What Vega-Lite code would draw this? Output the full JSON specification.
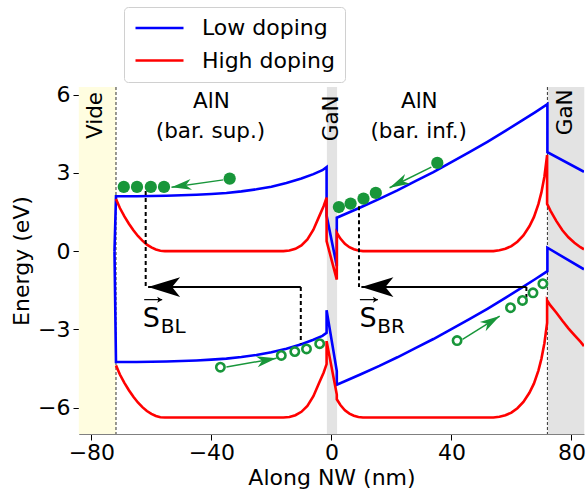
{
  "$schema": "https://vega.github.io/schema/vega-lite/v6.json",
  "width": 505,
  "height": 347,
  "autosize": {"type": "none"},
  "padding": {"left": 79, "top": 87, "right": 3, "bottom": 56},
  "background": "white",
  "config": {
    "view": {"stroke": null},
    "font": "DejaVu Sans",
    "axis": {"grid": false, "labelFont": "DejaVu Sans", "titleFont": "DejaVu Sans", "labelFontSize": 22, "titleFontSize": 22, "titleFontWeight": "normal", "labelColor": "#000000", "titleColor": "#000000", "domainColor": "#808080", "tickColor": "#000000", "tickWidth": 1, "labelOverlap": false},
    "legend": {"labelFont": "DejaVu Sans", "titleFont": "DejaVu Sans"}
  },
  "datasets": {
    "regions": [
      {"name": "Vide", "x1": -84.2, "x2": -71.8},
      {"name": "GaN", "x1": -1.5, "x2": 1.9},
      {"name": "GaN", "x1": 72.1, "x2": 84.3}
    ],
    "interfaces": [{"x": -71.8}, {"x": 72.0}],
    "bands": [
      {"d": "Low doping", "b": "CB", "x": -72.3, "E": 0},
      {"d": "Low doping", "b": "CB", "x": -71.8, "E": 2.10},
      {"d": "Low doping", "b": "CB", "x": -65, "E": 2.10},
      {"d": "Low doping", "b": "CB", "x": -60, "E": 2.11},
      {"d": "Low doping", "b": "CB", "x": -55, "E": 2.12},
      {"d": "Low doping", "b": "CB", "x": -50, "E": 2.14},
      {"d": "Low doping", "b": "CB", "x": -45, "E": 2.16},
      {"d": "Low doping", "b": "CB", "x": -40, "E": 2.19},
      {"d": "Low doping", "b": "CB", "x": -35, "E": 2.23},
      {"d": "Low doping", "b": "CB", "x": -30, "E": 2.29},
      {"d": "Low doping", "b": "CB", "x": -25, "E": 2.37},
      {"d": "Low doping", "b": "CB", "x": -20, "E": 2.47},
      {"d": "Low doping", "b": "CB", "x": -15, "E": 2.61},
      {"d": "Low doping", "b": "CB", "x": -10, "E": 2.78},
      {"d": "Low doping", "b": "CB", "x": -6, "E": 2.95},
      {"d": "Low doping", "b": "CB", "x": -3, "E": 3.10},
      {"d": "Low doping", "b": "CB", "x": -1.6, "E": 3.22},
      {"d": "Low doping", "b": "CB", "x": -1.6, "E": 1.36},
      {"d": "Low doping", "b": "CB", "x": 1.8, "E": -0.57},
      {"d": "Low doping", "b": "CB", "x": 1.8, "E": 1.28},
      {"d": "Low doping", "b": "CB", "x": 6, "E": 1.49},
      {"d": "Low doping", "b": "CB", "x": 10, "E": 1.69},
      {"d": "Low doping", "b": "CB", "x": 16, "E": 2.00},
      {"d": "Low doping", "b": "CB", "x": 22, "E": 2.33},
      {"d": "Low doping", "b": "CB", "x": 28, "E": 2.68},
      {"d": "Low doping", "b": "CB", "x": 34, "E": 3.03},
      {"d": "Low doping", "b": "CB", "x": 40, "E": 3.41},
      {"d": "Low doping", "b": "CB", "x": 46, "E": 3.79},
      {"d": "Low doping", "b": "CB", "x": 52, "E": 4.19},
      {"d": "Low doping", "b": "CB", "x": 58, "E": 4.61},
      {"d": "Low doping", "b": "CB", "x": 64, "E": 5.04},
      {"d": "Low doping", "b": "CB", "x": 68, "E": 5.33},
      {"d": "Low doping", "b": "CB", "x": 72, "E": 5.63},
      {"d": "Low doping", "b": "CB", "x": 72, "E": 3.79},
      {"d": "Low doping", "b": "CB", "x": 84.2, "E": 3.04},
      {"d": "Low doping", "b": "VB", "x": -72.3, "E": 0},
      {"d": "Low doping", "b": "VB", "x": -71.8, "E": -4.25},
      {"d": "Low doping", "b": "VB", "x": -65, "E": -4.25},
      {"d": "Low doping", "b": "VB", "x": -60, "E": -4.24},
      {"d": "Low doping", "b": "VB", "x": -55, "E": -4.23},
      {"d": "Low doping", "b": "VB", "x": -50, "E": -4.21},
      {"d": "Low doping", "b": "VB", "x": -45, "E": -4.19},
      {"d": "Low doping", "b": "VB", "x": -40, "E": -4.16},
      {"d": "Low doping", "b": "VB", "x": -35, "E": -4.12},
      {"d": "Low doping", "b": "VB", "x": -30, "E": -4.06},
      {"d": "Low doping", "b": "VB", "x": -25, "E": -3.98},
      {"d": "Low doping", "b": "VB", "x": -20, "E": -3.88},
      {"d": "Low doping", "b": "VB", "x": -15, "E": -3.74},
      {"d": "Low doping", "b": "VB", "x": -10, "E": -3.57},
      {"d": "Low doping", "b": "VB", "x": -6, "E": -3.40},
      {"d": "Low doping", "b": "VB", "x": -3, "E": -3.25},
      {"d": "Low doping", "b": "VB", "x": -1.6, "E": -3.13},
      {"d": "Low doping", "b": "VB", "x": -1.6, "E": -2.27},
      {"d": "Low doping", "b": "VB", "x": 1.8, "E": -4.6},
      {"d": "Low doping", "b": "VB", "x": 1.8, "E": -5.12},
      {"d": "Low doping", "b": "VB", "x": 6, "E": -4.91},
      {"d": "Low doping", "b": "VB", "x": 10, "E": -4.71},
      {"d": "Low doping", "b": "VB", "x": 16, "E": -4.40},
      {"d": "Low doping", "b": "VB", "x": 22, "E": -4.07},
      {"d": "Low doping", "b": "VB", "x": 28, "E": -3.72},
      {"d": "Low doping", "b": "VB", "x": 34, "E": -3.37},
      {"d": "Low doping", "b": "VB", "x": 40, "E": -2.99},
      {"d": "Low doping", "b": "VB", "x": 46, "E": -2.61},
      {"d": "Low doping", "b": "VB", "x": 52, "E": -2.21},
      {"d": "Low doping", "b": "VB", "x": 58, "E": -1.79},
      {"d": "Low doping", "b": "VB", "x": 64, "E": -1.36},
      {"d": "Low doping", "b": "VB", "x": 68, "E": -1.07},
      {"d": "Low doping", "b": "VB", "x": 72, "E": -0.77},
      {"d": "Low doping", "b": "VB", "x": 72, "E": 0.13},
      {"d": "Low doping", "b": "VB", "x": 84.2, "E": -0.70},
      {"d": "High doping", "b": "CB", "x": -71.8, "E": 2.0},
      {"d": "High doping", "b": "CB", "x": -70.5, "E": 1.65},
      {"d": "High doping", "b": "CB", "x": -69, "E": 1.33},
      {"d": "High doping", "b": "CB", "x": -67.5, "E": 1.05},
      {"d": "High doping", "b": "CB", "x": -66, "E": 0.8},
      {"d": "High doping", "b": "CB", "x": -64.5, "E": 0.58},
      {"d": "High doping", "b": "CB", "x": -63, "E": 0.4},
      {"d": "High doping", "b": "CB", "x": -61.5, "E": 0.25},
      {"d": "High doping", "b": "CB", "x": -60, "E": 0.14},
      {"d": "High doping", "b": "CB", "x": -58.5, "E": 0.06},
      {"d": "High doping", "b": "CB", "x": -57, "E": 0.015},
      {"d": "High doping", "b": "CB", "x": -55.5, "E": 0},
      {"d": "High doping", "b": "CB", "x": -16, "E": 0},
      {"d": "High doping", "b": "CB", "x": -14, "E": 0.02},
      {"d": "High doping", "b": "CB", "x": -12, "E": 0.09},
      {"d": "High doping", "b": "CB", "x": -10, "E": 0.22},
      {"d": "High doping", "b": "CB", "x": -8, "E": 0.45},
      {"d": "High doping", "b": "CB", "x": -6, "E": 0.82},
      {"d": "High doping", "b": "CB", "x": -4, "E": 1.35},
      {"d": "High doping", "b": "CB", "x": -2.6, "E": 1.72},
      {"d": "High doping", "b": "CB", "x": -1.6, "E": 2.05},
      {"d": "High doping", "b": "CB", "x": -1.6, "E": 0.38},
      {"d": "High doping", "b": "CB", "x": 1.8, "E": -1.09},
      {"d": "High doping", "b": "CB", "x": 1.8, "E": 0.7},
      {"d": "High doping", "b": "CB", "x": 3, "E": 0.48},
      {"d": "High doping", "b": "CB", "x": 4.5, "E": 0.28},
      {"d": "High doping", "b": "CB", "x": 6, "E": 0.15},
      {"d": "High doping", "b": "CB", "x": 7.5, "E": 0.07},
      {"d": "High doping", "b": "CB", "x": 9, "E": 0.02},
      {"d": "High doping", "b": "CB", "x": 10.5, "E": 0},
      {"d": "High doping", "b": "CB", "x": 54, "E": 0},
      {"d": "High doping", "b": "CB", "x": 56, "E": 0.03},
      {"d": "High doping", "b": "CB", "x": 58, "E": 0.09},
      {"d": "High doping", "b": "CB", "x": 60, "E": 0.19},
      {"d": "High doping", "b": "CB", "x": 62, "E": 0.36},
      {"d": "High doping", "b": "CB", "x": 64, "E": 0.6},
      {"d": "High doping", "b": "CB", "x": 66, "E": 0.95},
      {"d": "High doping", "b": "CB", "x": 67.5, "E": 1.3},
      {"d": "High doping", "b": "CB", "x": 69, "E": 1.8},
      {"d": "High doping", "b": "CB", "x": 70, "E": 2.25},
      {"d": "High doping", "b": "CB", "x": 71, "E": 2.85},
      {"d": "High doping", "b": "CB", "x": 71.9, "E": 3.68},
      {"d": "High doping", "b": "CB", "x": 71.9, "E": 1.81},
      {"d": "High doping", "b": "CB", "x": 73, "E": 1.55},
      {"d": "High doping", "b": "CB", "x": 75, "E": 1.15},
      {"d": "High doping", "b": "CB", "x": 77, "E": 0.8},
      {"d": "High doping", "b": "CB", "x": 79, "E": 0.53},
      {"d": "High doping", "b": "CB", "x": 81, "E": 0.32},
      {"d": "High doping", "b": "CB", "x": 83, "E": 0.15},
      {"d": "High doping", "b": "CB", "x": 84.2, "E": 0.07},
      {"d": "High doping", "b": "VB", "x": -71.8, "E": -4.38},
      {"d": "High doping", "b": "VB", "x": -70.5, "E": -4.73},
      {"d": "High doping", "b": "VB", "x": -69, "E": -5.05},
      {"d": "High doping", "b": "VB", "x": -67.5, "E": -5.33},
      {"d": "High doping", "b": "VB", "x": -66, "E": -5.58},
      {"d": "High doping", "b": "VB", "x": -64.5, "E": -5.80},
      {"d": "High doping", "b": "VB", "x": -63, "E": -5.98},
      {"d": "High doping", "b": "VB", "x": -61.5, "E": -6.13},
      {"d": "High doping", "b": "VB", "x": -60, "E": -6.24},
      {"d": "High doping", "b": "VB", "x": -58.5, "E": -6.32},
      {"d": "High doping", "b": "VB", "x": -57, "E": -6.365},
      {"d": "High doping", "b": "VB", "x": -55.5, "E": -6.38},
      {"d": "High doping", "b": "VB", "x": -16, "E": -6.38},
      {"d": "High doping", "b": "VB", "x": -14, "E": -6.36},
      {"d": "High doping", "b": "VB", "x": -12, "E": -6.29},
      {"d": "High doping", "b": "VB", "x": -10, "E": -6.16},
      {"d": "High doping", "b": "VB", "x": -8, "E": -5.93},
      {"d": "High doping", "b": "VB", "x": -6, "E": -5.56},
      {"d": "High doping", "b": "VB", "x": -4, "E": -5.03},
      {"d": "High doping", "b": "VB", "x": -2.6, "E": -4.66},
      {"d": "High doping", "b": "VB", "x": -1.6, "E": -4.33},
      {"d": "High doping", "b": "VB", "x": -1.6, "E": -3.45},
      {"d": "High doping", "b": "VB", "x": 1.8, "E": -5.5},
      {"d": "High doping", "b": "VB", "x": 1.8, "E": -5.68},
      {"d": "High doping", "b": "VB", "x": 3, "E": -5.9},
      {"d": "High doping", "b": "VB", "x": 4.5, "E": -6.1},
      {"d": "High doping", "b": "VB", "x": 6, "E": -6.23},
      {"d": "High doping", "b": "VB", "x": 7.5, "E": -6.31},
      {"d": "High doping", "b": "VB", "x": 9, "E": -6.36},
      {"d": "High doping", "b": "VB", "x": 10.5, "E": -6.38},
      {"d": "High doping", "b": "VB", "x": 54, "E": -6.38},
      {"d": "High doping", "b": "VB", "x": 56, "E": -6.35},
      {"d": "High doping", "b": "VB", "x": 58, "E": -6.29},
      {"d": "High doping", "b": "VB", "x": 60, "E": -6.19},
      {"d": "High doping", "b": "VB", "x": 62, "E": -6.02},
      {"d": "High doping", "b": "VB", "x": 64, "E": -5.78},
      {"d": "High doping", "b": "VB", "x": 66, "E": -5.43},
      {"d": "High doping", "b": "VB", "x": 67.5, "E": -5.08},
      {"d": "High doping", "b": "VB", "x": 69, "E": -4.58},
      {"d": "High doping", "b": "VB", "x": 70, "E": -4.13},
      {"d": "High doping", "b": "VB", "x": 71, "E": -3.53},
      {"d": "High doping", "b": "VB", "x": 71.9, "E": -2.75},
      {"d": "High doping", "b": "VB", "x": 71.9, "E": -1.89},
      {"d": "High doping", "b": "VB", "x": 73, "E": -2.08},
      {"d": "High doping", "b": "VB", "x": 75, "E": -2.36},
      {"d": "High doping", "b": "VB", "x": 77, "E": -2.67},
      {"d": "High doping", "b": "VB", "x": 79, "E": -2.96},
      {"d": "High doping", "b": "VB", "x": 81, "E": -3.22},
      {"d": "High doping", "b": "VB", "x": 83, "E": -3.47},
      {"d": "High doping", "b": "VB", "x": 84.2, "E": -3.64}
    ],
    "dashes": [
      {"x": -61.9, "y1": 2.3, "y2": -1.38},
      {"x": -10.2, "y1": -1.38, "y2": -3.55},
      {"x": 9.2, "y1": 1.72, "y2": -1.38},
      {"x": 65, "y1": -1.38, "y2": -1.78}
    ],
    "spin": [
      {"id": "BL", "x1": -10.2, "x2": -61.1, "y": -1.38},
      {"id": "BR", "x1": 65, "x2": 10.0, "y": -1.38}
    ],
    "vecs": [
      {"id": "BL", "x1": -62.4, "x2": -56.4, "y": -1.86},
      {"id": "BR", "x1": 9.5, "x2": 15.5, "y": -1.86}
    ],
    "garrows": [
      {"id": "a", "x1": -36, "y1": 2.73, "x2": -53.3, "y2": 2.45},
      {"id": "b", "x1": 33.3, "y1": 3.22, "x2": 19.4, "y2": 2.43},
      {"id": "c", "x1": -35, "y1": -4.44, "x2": -18.3, "y2": -4.11},
      {"id": "d", "x1": 43.7, "y1": -3.38, "x2": 56.1, "y2": -2.49}
    ],
    "electrons": [
      {"x": -69.2, "y": 2.46}, {"x": -64.8, "y": 2.46}, {"x": -60.2, "y": 2.46}, {"x": -55.8, "y": 2.46},
      {"x": -33.9, "y": 2.78},
      {"x": 2.5, "y": 1.69}, {"x": 6.4, "y": 1.82}, {"x": 10.7, "y": 2.01}, {"x": 14.8, "y": 2.23},
      {"x": 35.3, "y": 3.38}
    ],
    "holes": [
      {"x": -37, "y": -4.45}, {"x": -16.7, "y": -4.0}, {"x": -12.2, "y": -3.85}, {"x": -8.3, "y": -3.75}, {"x": -3.9, "y": -3.55},
      {"x": 41.9, "y": -3.43}, {"x": 59.7, "y": -2.17}, {"x": 63.7, "y": -1.89}, {"x": 67.2, "y": -1.6}, {"x": 70.5, "y": -1.25}
    ],
    "labels": [
      {"x": -40, "y": 5.5, "text": "AlN"},
      {"x": -40.3, "y": 4.35, "text": "(bar. sup.)"},
      {"x": 29.3, "y": 5.5, "text": "AlN"},
      {"x": 29.1, "y": 4.35, "text": "(bar. inf.)"}
    ],
    "vlabels": [
      {"x": -78.6, "y": 6.1, "text": "Vide"},
      {"x": 0.1, "y": 5.97, "text": "GaN"},
      {"x": 78.1, "y": 6.2, "text": "GaN"}
    ],
    "sletters": [
      {"x": -62.9, "y": -2.9, "text": "S"},
      {"x": 9.4, "y": -2.9, "text": "S"}
    ],
    "subs": [
      {"x": -56.9, "y": -3.12, "text": "BL"},
      {"x": 15.3, "y": -3.12, "text": "BR"}
    ]
  },
  "layer": [
    {
      "data": {"name": "regions"},
      "transform": [{"filter": "datum.name == 'Vide'"}],
      "mark": {"type": "rect", "color": "#fffde0", "opacity": 1},
      "encoding": {
        "x": {"field": "x1", "type": "quantitative", "title": "Along NW (nm)", "scale": {"domain": [-84.13, 84.2], "nice": false, "zero": false},
          "axis": {"values": [-80, -40, 0, 40, 80], "title": "Along NW (nm)", "grid": false, "tickSize": 6, "labelPadding": 2, "titlePadding": 4, "labelFlush": false, "labelOverlap": false}},
        "x2": {"field": "x2"}
      }
    },
    {
      "data": {"name": "regions"},
      "transform": [{"filter": "datum.name == 'GaN'"}],
      "mark": {"type": "rect", "color": "#e3e3e3", "opacity": 1},
      "encoding": {
        "x": {"field": "x1", "type": "quantitative", "title": "Along NW (nm)"},
        "x2": {"field": "x2"}
      }
    },
    {
      "data": {"name": "interfaces"},
      "mark": {"type": "rule", "color": "#333333", "strokeWidth": 1, "strokeDash": [3, 2]},
      "encoding": {"x": {"field": "x", "type": "quantitative", "title": "Along NW (nm)"}}
    },
    {
      "data": {"name": "bands"},
      "mark": {"type": "line", "strokeWidth": 2.6, "clip": true},
      "encoding": {
        "x": {"field": "x", "type": "quantitative", "title": "Along NW (nm)"},
        "y": {"field": "E", "type": "quantitative", "title": "Energy (eV)", "scale": {"domain": [-7.01, 6.29], "nice": false, "zero": false},
          "axis": {"values": [-6, -3, 0, 3, 6], "labelOverlap": false, "title": "Energy (eV)", "grid": false, "tickSize": 6, "labelPadding": 3, "titlePadding": 4}},
        "color": {"field": "d", "type": "nominal", "scale": {"domain": ["Low doping", "High doping"], "range": ["#0000ff", "#ff0000"]},
          "legend": {"orient": "none", "legendX": 45, "legendY": -80, "title": null, "symbolType": "stroke", "symbolSize": 2304, "symbolStrokeWidth": 2.6, "clipHeight": 22, "labelFontSize": 22, "labelFont": "DejaVu Sans", "labelColor": "#000000", "padding": 10, "rowPadding": 10.5, "labelOffset": 17, "strokeColor": "#d0d0d0", "fillColor": "#ffffff", "cornerRadius": 4}},
        "detail": {"field": "b"},
        "order": {"value": null}
      }
    },
    {
      "data": {"name": "dashes"},
      "mark": {"type": "rule", "color": "#000000", "strokeWidth": 2, "strokeDash": [4, 3]},
      "encoding": {
        "x": {"field": "x", "type": "quantitative", "title": "Along NW (nm)"},
        "y": {"field": "y1", "type": "quantitative", "title": "Energy (eV)"},
        "y2": {"field": "y2"}
      }
    },
    {
      "data": {"name": "spin"},
      "mark": {"type": "rule", "color": "#000000", "strokeWidth": 2},
      "encoding": {
        "x": {"field": "x1", "type": "quantitative", "title": "Along NW (nm)"},
        "x2": {"field": "x2"},
        "y": {"field": "y", "type": "quantitative", "title": "Energy (eV)"}
      }
    },
    {
      "data": {"name": "spin"},
      "mark": {"type": "point", "shape": "M0,0L-2,-0.62L-1.5,0L-2,0.62Z", "size": 1024, "angle": 180, "filled": true, "color": "#000000", "opacity": 1, "strokeWidth": 0},
      "encoding": {
        "x": {"field": "x2", "type": "quantitative", "title": "Along NW (nm)"},
        "y": {"field": "y", "type": "quantitative", "title": "Energy (eV)"}
      }
    },
    {
      "data": {"name": "vecs"},
      "mark": {"type": "rule", "color": "#000000", "strokeWidth": 1.2},
      "encoding": {
        "x": {"field": "x1", "type": "quantitative", "title": "Along NW (nm)"},
        "x2": {"field": "x2"},
        "y": {"field": "y", "type": "quantitative", "title": "Energy (eV)"}
      }
    },
    {
      "data": {"name": "vecs"},
      "mark": {"type": "point", "shape": "M0,0L-2,-1.2L-1.5,0L-2,1.2Z", "size": 25, "angle": 0, "filled": true, "color": "#000000", "opacity": 1, "strokeWidth": 0},
      "encoding": {
        "x": {"field": "x2", "type": "quantitative", "title": "Along NW (nm)"},
        "y": {"field": "y", "type": "quantitative", "title": "Energy (eV)"}
      }
    },
    {
      "data": {"name": "garrows"},
      "mark": {"type": "rule", "color": "#18963a", "strokeWidth": 1.5},
      "encoding": {
        "x": {"field": "x1", "type": "quantitative", "title": "Along NW (nm)"},
        "x2": {"field": "x2"},
        "y": {"field": "y1", "type": "quantitative", "title": "Energy (eV)"},
        "y2": {"field": "y2"}
      }
    },
    {
      "data": {"name": "garrows"},
      "transform": [{"filter": "datum.id == 'a'"}],
      "mark": {"type": "point", "shape": "M0,0L-2,-0.55L-1.45,0L-2,0.55Z", "size": 400, "angle": 172, "filled": true, "color": "#18963a", "opacity": 1, "strokeWidth": 0},
      "encoding": {"x": {"field": "x2", "type": "quantitative", "title": "Along NW (nm)"}, "y": {"field": "y2", "type": "quantitative", "title": "Energy (eV)"}}
    },
    {
      "data": {"name": "garrows"},
      "transform": [{"filter": "datum.id == 'b'"}],
      "mark": {"type": "point", "shape": "M0,0L-2,-0.55L-1.45,0L-2,0.55Z", "size": 400, "angle": 153.7, "filled": true, "color": "#18963a", "opacity": 1, "strokeWidth": 0},
      "encoding": {"x": {"field": "x2", "type": "quantitative", "title": "Along NW (nm)"}, "y": {"field": "y2", "type": "quantitative", "title": "Energy (eV)"}}
    },
    {
      "data": {"name": "garrows"},
      "transform": [{"filter": "datum.id == 'c'"}],
      "mark": {"type": "point", "shape": "M0,0L-2,-0.55L-1.45,0L-2,0.55Z", "size": 400, "angle": -9.7, "filled": true, "color": "#18963a", "opacity": 1, "strokeWidth": 0},
      "encoding": {"x": {"field": "x2", "type": "quantitative", "title": "Along NW (nm)"}, "y": {"field": "y2", "type": "quantitative", "title": "Energy (eV)"}}
    },
    {
      "data": {"name": "garrows"},
      "transform": [{"filter": "datum.id == 'd'"}],
      "mark": {"type": "point", "shape": "M0,0L-2,-0.55L-1.45,0L-2,0.55Z", "size": 400, "angle": -32, "filled": true, "color": "#18963a", "opacity": 1, "strokeWidth": 0},
      "encoding": {"x": {"field": "x2", "type": "quantitative", "title": "Along NW (nm)"}, "y": {"field": "y2", "type": "quantitative", "title": "Energy (eV)"}}
    },
    {
      "data": {"name": "electrons"},
      "mark": {"type": "point", "shape": "circle", "size": 150, "filled": true, "color": "#18963a", "opacity": 1, "strokeWidth": 0},
      "encoding": {"x": {"field": "x", "type": "quantitative", "title": "Along NW (nm)"}, "y": {"field": "y", "type": "quantitative", "title": "Energy (eV)"}}
    },
    {
      "data": {"name": "holes"},
      "mark": {"type": "point", "shape": "circle", "size": 70, "filled": false, "color": "#18963a", "opacity": 1, "strokeWidth": 2.6},
      "encoding": {"x": {"field": "x", "type": "quantitative", "title": "Along NW (nm)"}, "y": {"field": "y", "type": "quantitative", "title": "Energy (eV)"}}
    },
    {
      "data": {"name": "labels"},
      "mark": {"type": "text", "fontSize": 21.5, "font": "DejaVu Sans", "align": "center", "baseline": "alphabetic", "color": "#000000"},
      "encoding": {"x": {"field": "x", "type": "quantitative", "title": "Along NW (nm)"}, "y": {"field": "y", "type": "quantitative", "title": "Energy (eV)"}, "text": {"field": "text"}}
    },
    {
      "data": {"name": "vlabels"},
      "mark": {"type": "text", "fontSize": 21.5, "font": "DejaVu Sans", "angle": 270, "align": "right", "baseline": "middle", "color": "#000000"},
      "encoding": {"x": {"field": "x", "type": "quantitative", "title": "Along NW (nm)"}, "y": {"field": "y", "type": "quantitative", "title": "Energy (eV)"}, "text": {"field": "text"}}
    },
    {
      "data": {"name": "sletters"},
      "mark": {"type": "text", "fontSize": 27, "font": "DejaVu Sans", "align": "left", "baseline": "alphabetic", "color": "#000000"},
      "encoding": {"x": {"field": "x", "type": "quantitative", "title": "Along NW (nm)"}, "y": {"field": "y", "type": "quantitative", "title": "Energy (eV)"}, "text": {"field": "text"}}
    },
    {
      "data": {"name": "subs"},
      "mark": {"type": "text", "fontSize": 20, "font": "DejaVu Sans", "align": "left", "baseline": "alphabetic", "color": "#000000"},
      "encoding": {"x": {"field": "x", "type": "quantitative", "title": "Along NW (nm)"}, "y": {"field": "y", "type": "quantitative", "title": "Energy (eV)"}, "text": {"field": "text"}}
    }
  ]
}
